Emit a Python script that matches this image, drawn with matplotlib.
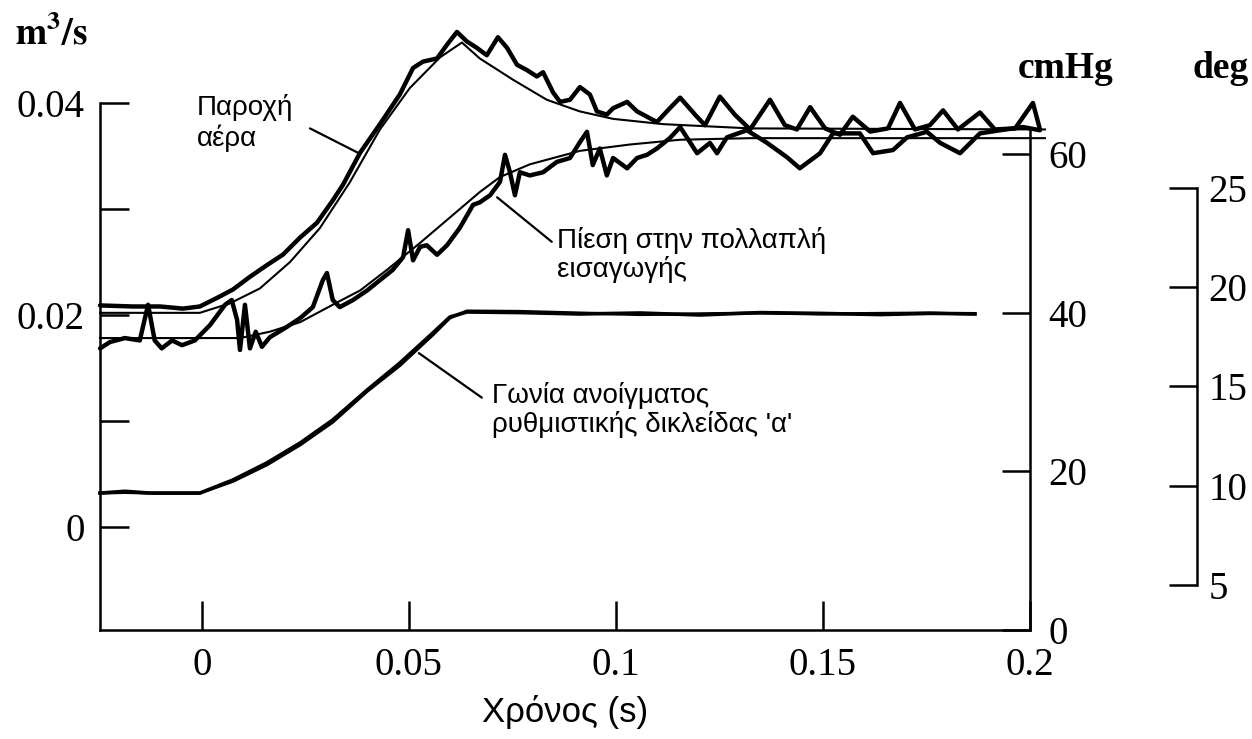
import matplotlib
matplotlib.use('Agg')
import matplotlib.pyplot as plt

plt.rcParams['font.family'] = 'Liberation Serif'
plt.rcParams['mathtext.fontset'] = 'stix'

# air flow, measured (m^3/s)
t_flow = [-0.0246, -0.0167, -0.0101, -0.0046, -0.0005, 0.0036, 0.0075, 0.0116, 0.0157, 0.0196,
          0.0237, 0.0278, 0.0316, 0.0341, 0.0382, 0.0430, 0.0478, 0.0510, 0.0534, 0.0568,
          0.0592, 0.0616, 0.0640, 0.0664, 0.0688, 0.0715, 0.0737, 0.0761, 0.0785, 0.0809,
          0.0824, 0.0848, 0.0865, 0.0889, 0.0913, 0.0937, 0.0954, 0.0978, 0.0993, 0.1027,
          0.1051, 0.1075, 0.1099, 0.1130, 0.1155, 0.1191, 0.1215, 0.1251, 0.1287, 0.1324,
          0.1372, 0.1408, 0.1437, 0.1469, 0.1505, 0.1541, 0.1572, 0.1614, 0.1657, 0.1686,
          0.1722, 0.1758, 0.1790, 0.1826, 0.1879, 0.1915, 0.1964, 0.2007, 0.2024]
flow_meas = [0.0209, 0.0208, 0.0208, 0.0206, 0.0208, 0.0216, 0.0224, 0.0236, 0.0247, 0.0257,
             0.0273, 0.0287, 0.0308, 0.0323, 0.0353, 0.0380, 0.0408, 0.0433, 0.0439, 0.0442,
             0.0455, 0.0467, 0.0458, 0.0452, 0.0445, 0.0462, 0.0452, 0.0436, 0.0431, 0.0425,
             0.0429, 0.0410, 0.0401, 0.0403, 0.0415, 0.0408, 0.0392, 0.0389, 0.0395, 0.0401,
             0.0392, 0.0387, 0.0382, 0.0395, 0.0405, 0.0389, 0.0379, 0.0406, 0.0389, 0.0375,
             0.0403, 0.0379, 0.0375, 0.0396, 0.0376, 0.0370, 0.0387, 0.0373, 0.0376, 0.0400,
             0.0375, 0.0379, 0.0393, 0.0375, 0.0391, 0.0375, 0.0376, 0.0400, 0.0375]

# air flow, model
t_flow_mod = [-0.0246, -0.0005, 0.0068, 0.0140, 0.0213, 0.0285, 0.0357, 0.0430, 0.0502, 0.0575,
              0.0628, 0.0671, 0.0751, 0.0833, 0.0913, 0.0993, 0.1114, 0.1324, 0.2036]
flow_mod = [0.0202, 0.0202, 0.0211, 0.0225, 0.0250, 0.0282, 0.0325, 0.0375, 0.0414, 0.0443,
            0.0457, 0.0442, 0.0422, 0.0403, 0.0392, 0.0385, 0.0380, 0.0376, 0.0375]

# manifold pressure, measured (cmHg)
t_press = [-0.0246, -0.0222, -0.0186, -0.0150, -0.0130, -0.0114, -0.0097, -0.0072, -0.0048, -0.0017,
           0.0019, 0.0056, 0.0072, 0.0085, 0.0092, 0.0104, 0.0116, 0.0130, 0.0145, 0.0164,
           0.0205, 0.0237, 0.0268, 0.0292, 0.0302, 0.0316, 0.0333, 0.0365, 0.0399, 0.0430,
           0.0461, 0.0486, 0.0498, 0.0510, 0.0527, 0.0543, 0.0568, 0.0592, 0.0623, 0.0655,
           0.0671, 0.0696, 0.0720, 0.0732, 0.0744, 0.0756, 0.0768, 0.0792, 0.0824, 0.0857,
           0.0889, 0.0913, 0.0930, 0.0944, 0.0961, 0.0978, 0.0993, 0.1027, 0.1051, 0.1075,
           0.1099, 0.1130, 0.1155, 0.1196, 0.1227, 0.1244, 0.1268, 0.1316, 0.1365, 0.1413,
           0.1444, 0.1493, 0.1524, 0.1589, 0.1621, 0.1669, 0.1703, 0.1751, 0.1783, 0.1831,
           0.1879, 0.1928, 0.1983, 0.2024]
press_meas = [35.5, 36.3, 36.8, 36.5, 41.0, 36.5, 35.5, 36.5, 35.9, 36.5,
              38.4, 41.0, 41.6, 39.1, 35.3, 41.0, 35.5, 37.6, 35.7, 36.9,
              38.2, 39.3, 40.7, 44.1, 45.0, 41.6, 40.7, 41.6, 42.8, 44.1,
              45.4, 47.0, 50.4, 46.6, 48.3, 48.5, 47.3, 48.5, 50.7, 53.6,
              53.9, 54.8, 56.5, 59.9, 57.7, 54.8, 57.7, 57.3, 57.7, 59.0,
              59.5, 61.5, 62.8, 58.6, 60.7, 57.3, 59.5, 58.2, 59.5, 59.9,
              60.7, 62.0, 63.4, 60.1, 61.4, 60.1, 62.1, 63.0, 61.4, 59.6,
              58.2, 60.1, 62.6, 62.6, 60.1, 60.5, 62.1, 62.8, 61.4, 60.1,
              62.6, 63.0, 63.4, 63.0]

# manifold pressure, model
t_press_mod = [-0.0246, 0.0092, 0.0164, 0.0237, 0.0316, 0.0382, 0.0447, 0.0527, 0.0599, 0.0671,
               0.0720, 0.0792, 0.0913, 0.1034, 0.1155, 0.1324, 0.2036]
press_mod = [36.8, 36.8, 37.6, 38.8, 41.0, 42.8, 45.4, 48.8, 52.0, 55.2,
             57.1, 58.7, 60.4, 61.2, 61.8, 62.0, 62.0]

# throttle angle (deg), two runs
t_angle = [-0.0246, -0.0186, -0.0126, -0.0005, 0.0075, 0.0157, 0.0237, 0.0316, 0.0399, 0.0478,
           0.0558, 0.0599, 0.0640, 0.0768, 0.0913, 0.1058, 0.1203, 0.1348, 0.1493, 0.1638,
           0.1758, 0.1867]
angle_1 = [9.63, 9.72, 9.63, 9.63, 10.29, 11.15, 12.15, 13.31, 14.82, 16.18,
           17.70, 18.50, 18.75, 18.72, 18.65, 18.70, 18.60, 18.72, 18.68, 18.62,
           18.68, 18.66]
angle_2 = [9.63, 9.66, 9.63, 9.63, 10.22, 11.05, 12.05, 13.20, 14.75, 16.05,
           17.60, 18.45, 18.80, 18.78, 18.70, 18.62, 18.66, 18.70, 18.65, 18.68,
           18.70, 18.64]

fig = plt.figure(figsize=(12.52, 7.39), dpi=100)
ax = fig.add_axes([0.0799, 0.1475, 0.7428, 0.8255])
ax_p = ax.twinx()
ax_d = ax.twinx()

ax.set_xlim(-0.0246, 0.2)
ax.set_ylim(-0.00972, 0.04783)
ax_p.set_ylim(0, 76.9)
ax_d.set_ylim(2.733, 33.46)

thick = dict(color='black', lw=3.2, solid_joinstyle='round', solid_capstyle='round', clip_on=False)
thin = dict(color='black', lw=1.5, clip_on=False)

ax.plot(t_flow, flow_meas, **thick)
ax.plot(t_flow_mod, flow_mod, **thin)
ax_p.plot(t_press, press_meas, **thick)
ax_p.plot(t_press_mod, press_mod, **thin)
ax_d.plot(t_angle, angle_1, color='black', lw=2.6, clip_on=False)
ax_d.plot(t_angle, angle_2, color='black', lw=2.2, clip_on=False)

# spines
for a in (ax, ax_p, ax_d):
    for s in a.spines.values():
        s.set_visible(False)
        s.set_linewidth(1.8)
ax.spines['left'].set_visible(True)
ax.spines['left'].set_bounds(-0.00972, 0.04)
ax.spines['bottom'].set_visible(True)
ax_p.spines['right'].set_visible(True)
ax_p.spines['right'].set_bounds(0, 63)
ax_d.spines['right'].set_visible(True)
ax_d.spines['right'].set_position(('axes', 1.1796))
ax_d.spines['right'].set_bounds(5, 25)

ax.set_yticks([0, 0.01, 0.02, 0.03, 0.04])
ax.set_yticklabels(['0', '', '0.02', '', '0.04'])
ax.set_xticks([0, 0.05, 0.1, 0.15, 0.2])
ax.set_xticklabels(['0', '0.05', '0.1', '0.15', '0.2'])
ax.tick_params(axis='both', direction='in', length=21, width=1.8, labelsize=28, pad=11)
ax.tick_params(axis='x', pad=12)

ax_p.set_yticks([0, 20, 40, 60])
ax_p.tick_params(axis='y', direction='in', length=20, width=1.8, labelsize=28, pad=13)
ax_d.set_yticks([5, 10, 15, 20, 25])
ax_d.tick_params(axis='y', direction='in', length=20, width=1.8, labelsize=28, pad=8)

ax.set_xlabel('Χρόνος (s)', family='Liberation Sans', fontsize=25, labelpad=8)

fig.text(0.012, 0.939, r'$\mathbf{m^3/s}$', fontsize=27, va='baseline')
fig.text(1018 / 1252, 1 - 78 / 739, 'cmHg', fontsize=27, weight='bold', va='baseline')
fig.text(1192 / 1252, 1 - 78 / 739, 'deg', fontsize=27, weight='bold', va='baseline')

# curve labels with leader lines
lab = dict(family='Liberation Sans', fontsize=20, va='top', ha='left', linespacing=1.12)
lead = dict(arrowstyle='-', color='black', lw=1.6, shrinkA=0, shrinkB=0)
ax.text(-0.0012, 0.0408, 'Παροχή\nαέρα', **lab)
ax.annotate('', xy=(0.0377, 0.0353), xytext=(0.0261, 0.0376), arrowprops=lead)
ax.text(0.0857, 0.0283, 'Πίεση στην πολλαπλή\nεισαγωγής', **lab)
ax.annotate('', xy=(0.0713, 0.0311), xytext=(0.0845, 0.0269), arrowprops=lead)
ax.text(0.0700, 0.01368, "Γωνία ανοίγματος\nρυθμιστικής δικλείδας 'α'", **lab)
ax.annotate('', xy=(0.0524, 0.0164), xytext=(0.0676, 0.0122), arrowprops=lead)

fig.savefig('out.png', dpi=100)
